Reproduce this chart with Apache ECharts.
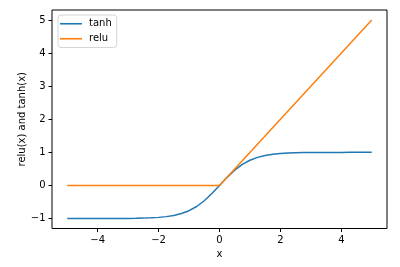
<!DOCTYPE html>
<html><head><meta charset="utf-8">
<script src="https://cdn.jsdelivr.net/npm/echarts@6/dist/echarts.min.js"></script>
<style>html,body{margin:0;padding:0;background:#fff}#c{width:400px;height:267px}</style>
</head><body><div id="c"></div>
<script>
const xs = [-5,-4.75,-4.5,-4.25,-4,-3.75,-3.5,-3.25,-3,-2.75,-2.5,-2.25,-2,-1.75,-1.5,-1.25,-1,-0.75,-0.5,-0.25,0,0.25,0.5,0.75,1,1.25,1.5,1.75,2,2.25,2.5,2.75,3,3.25,3.5,3.75,4,4.25,4.5,4.75,5];
const tanhVals = [-0.9999,-0.9999,-0.9998,-0.9996,-0.9993,-0.9989,-0.9982,-0.9970,-0.9951,-0.9919,-0.9866,-0.9780,-0.9640,-0.9414,-0.9051,-0.8483,-0.7616,-0.6351,-0.4621,-0.2449,0,0.2449,0.4621,0.6351,0.7616,0.8483,0.9051,0.9414,0.9640,0.9780,0.9866,0.9919,0.9951,0.9970,0.9982,0.9989,0.9993,0.9996,0.9998,0.9999,0.9999];
const reluX = [-5, 0, 5];
const reluVals = [0, 0, 5];
const xTicks = [-4, -2, 0, 2, 4];
const yTicks = [-1, 0, 1, 2, 3, 4, 5];
const fmt = v => String(v).replace('-', '\u2212');
const font = 'DejaVu Sans';
const fs = 10;
const chart = echarts.init(document.getElementById('c'), null, {renderer: 'canvas'});
chart.setOption({
  animation: false,
  backgroundColor: '#fff',
  textStyle: {fontFamily: font},
  grid: {left: 52, right: 13, top: 10, bottom: 38.5, show: true, borderColor: '#000', borderWidth: 1, backgroundColor: 'transparent'},
  legend: {
    orient: 'vertical', left: 58, top: 15,
    data: [{name: 'tanh', icon: 'rect'}, {name: 'relu', icon: 'rect'}],
    itemWidth: 22, itemHeight: 1.6, itemGap: 3.5,
    padding: [3, 5, 3, 2],
    borderColor: '#d5d5d5', borderWidth: 1, borderRadius: 3, backgroundColor: '#fff',
    textStyle: {fontFamily: font, fontSize: fs, lineHeight: 11.5, color: '#000', padding: [0,0,0,2]}
  },
  xAxis: {
    type: 'value', min: -5.5, max: 5.5, position: 'bottom',
    name: 'x', nameLocation: 'middle', nameGap: 20.5, nameMoveOverlap: false,
    nameTextStyle: {fontFamily: font, fontSize: fs, color: '#000'},
    axisLine: {show: false, onZero: false},
    axisTick: {show: true, inside: false, length: 3.5, customValues: xTicks, lineStyle: {color: '#000'}},
    axisLabel: {customValues: xTicks, formatter: fmt, margin: 6.5, fontFamily: font, fontSize: fs, color: '#000'},
    splitLine: {show: false}
  },
  yAxis: {
    type: 'value', min: -1.3, max: 5.3, position: 'left',
    name: 'relu(x) and tanh(x)', nameLocation: 'middle', nameGap: 25, nameMoveOverlap: false,
    nameTextStyle: {fontFamily: font, fontSize: fs, color: '#000'},
    axisLine: {show: false, onZero: false},
    axisTick: {show: true, inside: false, length: 3.5, customValues: yTicks, lineStyle: {color: '#000'}},
    axisLabel: {customValues: yTicks, formatter: fmt, margin: 6.5, fontFamily: font, fontSize: fs, color: '#000'},
    splitLine: {show: false}
  },
  series: [
    {name: 'tanh', type: 'line', data: xs.map((x, i) => [x, tanhVals[i]]), showSymbol: false, smooth: false,
     lineStyle: {color: '#1f77b4', width: 1.5}, itemStyle: {color: '#1f77b4'}},
    {name: 'relu', type: 'line', data: reluX.map((x, i) => [x, reluVals[i]]), showSymbol: false,
     lineStyle: {color: '#ff7f0e', width: 1.5}, itemStyle: {color: '#ff7f0e'}}
  ]
});
</script></body></html>
